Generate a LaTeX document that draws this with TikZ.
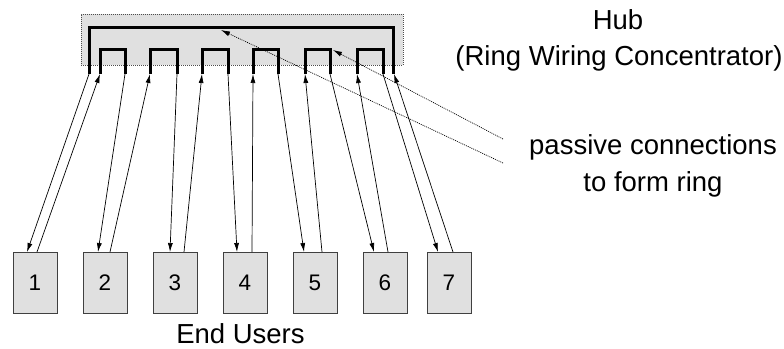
\documentclass[tikz,border=0pt]{standalone}
\usepackage{fontspec}
\setmainfont{Liberation Sans}
\usetikzlibrary{arrows.meta}
\definecolor{boxgray}{HTML}{E0E0E0}
\begin{document}
\begin{tikzpicture}[x=1pt,y=-1pt,
  userbox/.style={draw=black!75, line width=0.8pt, fill=boxgray, minimum width=44pt, minimum height=61pt, inner sep=0pt},
  hubbox/.style={draw=black!70, dash pattern=on 1pt off 1pt, line width=0.7pt, fill=boxgray, minimum width=322pt, minimum height=51pt, inner sep=0pt},
  wire/.style={line width=3pt, line join=miter, line cap=butt},
  link/.style={line width=0.7pt, -{Latex[length=9pt,width=5pt]}},
  passive/.style={line width=0.7pt, dash pattern=on 1pt off 1pt, -{Latex[length=9pt,width=5pt]}},
  lbl/.style={font=\fontsize{27.5}{31}\selectfont, anchor=base, inner sep=0pt},
  num/.style={font=\fontsize{22.5}{26}\selectfont, anchor=base, inner sep=0pt}
]
\useasboundingbox (0,0) rectangle (784,348);

% hub
\node[hubbox] (hub) at (242,39.5) {};
\draw[wire] (89,74) -- (89,27) -- (393,27) -- (393,74);
\foreach \a/\b in {100/125,150/177,202/228,253/278,305/330,357/383}{
  \draw[wire] (\a,74) -- (\a,49) -- (\b,49) -- (\b,74);
}
% hub leg ends
\coordinate (h0) at (89,74);
\coordinate (h1) at (100,74);
\coordinate (h2) at (125,74);
\coordinate (h3) at (150,74);
\coordinate (h4) at (177,74);
\coordinate (h5) at (202,74);
\coordinate (h6) at (228,74);
\coordinate (h7) at (253,74);
\coordinate (h8) at (278,74);
\coordinate (h9) at (305,74);
\coordinate (h10) at (330,74);
\coordinate (h11) at (357,74);
\coordinate (h12) at (383,74);
\coordinate (h13) at (394,74);

% user boxes
\node[userbox] (u1) at (35,282.5) {};
\node[userbox] (u2) at (105,282.5) {};
\node[userbox] (u3) at (175,282.5) {};
\node[userbox] (u4) at (245,282.5) {};
\node[userbox] (u5) at (315,282.5) {};
\node[userbox] (u6) at (385,282.5) {};
\node[userbox] (u7) at (449,282.5) {};
\foreach \i in {1,...,7}{
  \node[num] (n\i) at ([yshift=-8pt]u\i.center) {\i};
}

% box top ports
\coordinate (i1) at (27,252);  \coordinate (o1) at (37,252);
\coordinate (i2) at (98,252);  \coordinate (o2) at (110,252);
\coordinate (i3) at (170,252); \coordinate (o3) at (184,252);
\coordinate (i4) at (237,252); \coordinate (o4) at (252,252);
\coordinate (i5) at (304,252); \coordinate (o5) at (322,252);
\coordinate (i6) at (374,252); \coordinate (o6) at (388,252);
\coordinate (i7) at (438,252); \coordinate (o7) at (453,252);

% ring connections
\draw[link] (h0) -- (i1);  \draw[link] (o1) -- (h1);
\draw[link] (h2) -- (i2);  \draw[link] (o2) -- (h3);
\draw[link] (h4) -- (i3);  \draw[link] (o3) -- (h5);
\draw[link] (h6) -- (i4);  \draw[link] (o4) -- (h7);
\draw[link] (h8) -- (i5);  \draw[link] (o5) -- (h9);
\draw[link] (h10) -- (i6); \draw[link] (o6) -- (h11);
\draw[link] (h12) -- (i7); \draw[link] (o7) -- (h13);

% passive connection pointers
\coordinate (p1) at (503,163);
\coordinate (p2) at (503,139);
\coordinate (t1) at (221,30);
\coordinate (t2) at (333,50);
\draw[passive] (p1) -- (t1);
\draw[passive] (p2) -- (t2);

% labels
\node[lbl] (hubl) at (618,29) {Hub};
\node[lbl] (hubl2) at (619,65) {(Ring Wiring Concentrator)};
\node[lbl] (pc1) at (653,154) {passive connections};
\node[lbl] (pc2) at (653,191) {to form ring};
\node[lbl] (eu) at (240.5,343) {End Users};
\end{tikzpicture}
\end{document}
